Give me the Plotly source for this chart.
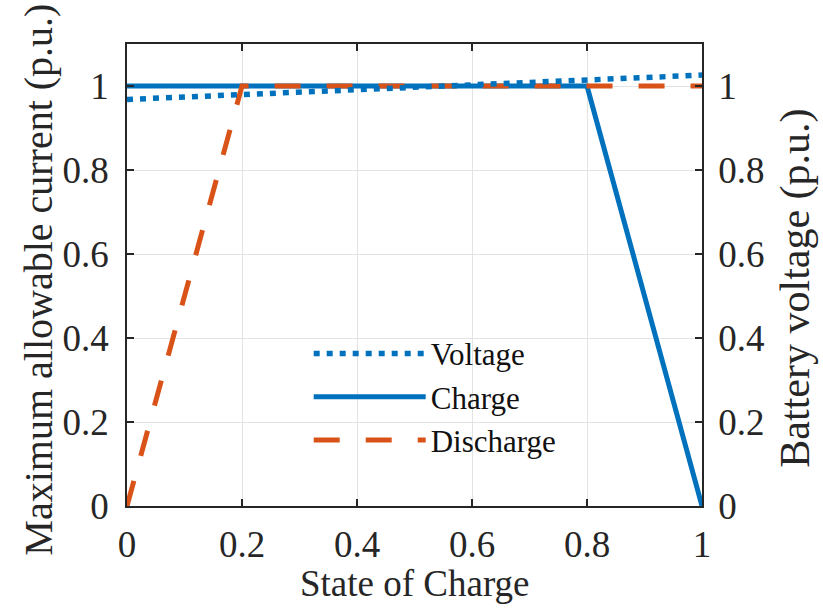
import plotly.graph_objects as go

# Data
soc_voltage = [0.0, 0.2, 0.4, 0.6, 0.8, 1.0]
voltage = [0.968, 0.979, 0.990, 1.002, 1.013, 1.026]
soc_charge = [0.0, 0.8, 1.0]
charge = [1.0, 1.0, 0.0]
soc_discharge = [0.0, 0.2, 1.0]
discharge = [0.0, 1.0, 1.0]
tick_vals = [0, 0.2, 0.4, 0.6, 0.8, 1.0]
tick_text = ["0", "0.2", "0.4", "0.6", "0.8", "1"]

BLUE = "#0072BD"
ORANGE = "#D95319"
FONT = "Liberation Serif"

fig = go.Figure()
fig.add_trace(go.Scatter(x=soc_voltage, y=voltage, name="Voltage", mode="lines",
                         line=dict(color=BLUE, width=5.5, dash="6px,7px"), yaxis="y2"))
fig.add_trace(go.Scatter(x=soc_charge, y=charge, name="Charge", mode="lines",
                         line=dict(color=BLUE, width=5)))
fig.add_trace(go.Scatter(x=soc_discharge, y=discharge, name="Discharge", mode="lines",
                         line=dict(color=ORANGE, width=5, dash="26px,26px")))

axis_common = dict(showline=True, linecolor="#262626", linewidth=1.5,
                   ticks="inside", ticklen=7, tickcolor="#262626", tickwidth=1.5,
                   tickfont=dict(family=FONT, size=37, color="#262626"),
                   zeroline=False)

fig.update_layout(
    width=823, height=612,
    margin=dict(l=127, r=121, t=44, b=106),
    paper_bgcolor="white", plot_bgcolor="white",
    font=dict(family=FONT, color="#262626"),
    showlegend=True,
    legend=dict(x=0.316, y=0.388, xanchor="left", yanchor="top",
                bgcolor="rgba(0,0,0,0)", borderwidth=0,
                font=dict(family=FONT, size=31, color="#111111"),
                itemwidth=112, tracegroupgap=0),
    xaxis=dict(range=[0, 1], tickvals=tick_vals, ticktext=tick_text,
               showgrid=True, gridcolor="#e3e3e3", gridwidth=1,
               mirror="ticks", ticklabelstandoff=5, **axis_common),
    yaxis=dict(range=[0, 1.1], tickvals=tick_vals, ticktext=tick_text,
               showgrid=True, gridcolor="#e3e3e3", gridwidth=1,
               ticklabelstandoff=9, **axis_common),
    yaxis2=dict(range=[0, 1.1], tickvals=tick_vals, ticktext=tick_text,
                overlaying="y", side="right", showgrid=False,
                ticklabelstandoff=7, **axis_common),
    annotations=[
        dict(text="State of Charge", xref="paper", yref="paper", x=0.5, y=-0.118,
             xanchor="center", yanchor="top", showarrow=False,
             font=dict(family=FONT, size=37, color="#262626")),
        dict(text="Maximum allowable current (p.u.)", xref="paper", yref="paper",
             x=-0.153, y=0.49, xanchor="center", yanchor="middle", textangle=-90,
             showarrow=False, font=dict(family=FONT, size=40, color="#262626")),
        dict(text="Battery voltage (p.u.)", xref="paper", yref="paper",
             x=1.163, y=0.472, xanchor="center", yanchor="middle", textangle=-90,
             showarrow=False, font=dict(family=FONT, size=42, color="#262626")),
    ],
)

fig.write_html("out.html")
